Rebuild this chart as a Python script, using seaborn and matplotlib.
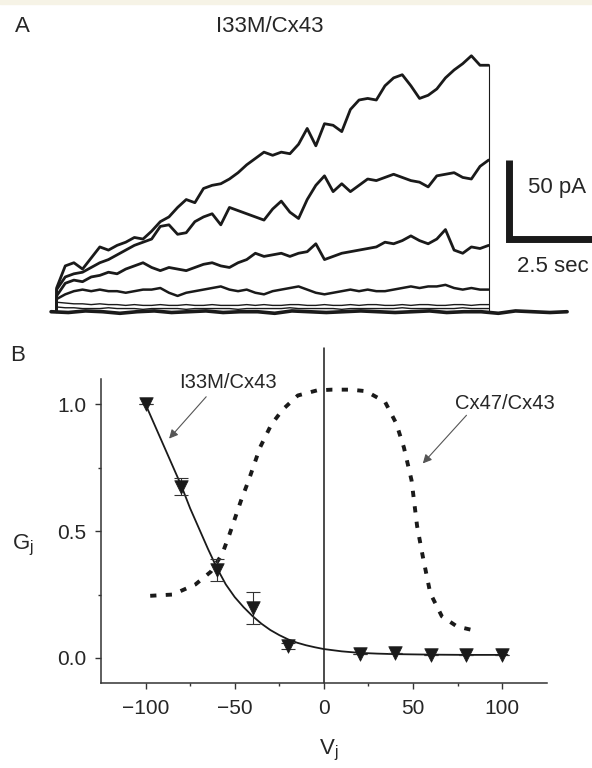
import numpy as np
import pandas as pd
import seaborn as sns
import matplotlib.pyplot as plt
from matplotlib.patches import Rectangle

sns.set_theme(style='ticks')
plt.rcParams['font.family'] = ['Liberation Sans', 'DejaVu Sans']
plt.rcParams['mathtext.fontset'] = 'custom'
plt.rcParams['mathtext.rm'] = 'Liberation Sans'

# ---- panel A: current traces (time in s, current in pA) ----
t_grid = np.linspace(0, 12.5, 51)
trace1 = [15, 29, 31, 27, 34, 41, 39, 42, 44, 47,
          46, 51, 57, 60, 66, 71, 69, 78, 80, 81,
          84, 88, 93, 97, 101, 99, 101, 100, 106, 116,
          105, 119, 118, 114, 128, 134, 135, 134, 143, 148,
          150, 143, 135, 137, 141, 148, 153, 157, 162, 156,
          156]
trace2 = [14, 22, 24, 25, 28, 31, 33, 36, 39, 42,
          44, 46, 54, 55, 49, 50, 57, 60, 62, 55,
          66, 64, 62, 60, 58, 65, 70, 63, 59, 71,
          80, 86, 76, 81, 76, 80, 84, 83, 85, 87,
          85, 83, 82, 79, 86, 87, 88, 85, 84, 92,
          96]
trace3 = [10, 18, 20, 19, 22, 23, 25, 24, 27, 29,
          31, 28, 26, 28, 27, 26, 28, 30, 31, 29,
          28, 31, 33, 37, 35, 36, 37, 35, 37, 38,
          43, 33, 35, 37, 38, 39, 40, 41, 44, 43,
          45, 48, 45, 43, 46, 52, 39, 37, 41, 40,
          42]
trace4 = [8, 11, 13, 14, 13, 14, 13, 13, 12, 13,
          14, 14, 15, 12, 10, 12, 13, 14, 15, 16,
          14, 13, 14, 12, 11, 13, 14, 15, 16, 14,
          12, 11, 12, 13, 14, 13, 14, 13, 13, 14,
          15, 16, 15, 16, 16, 17, 15, 14, 15, 14,
          14]
trace5 = [6, 5.5, 5, 5, 4.5, 5, 4.5, 4.5, 4, 4.5,
          4, 4, 4.5, 4, 4, 4.5, 4, 4, 4.5, 4,
          4, 4, 4.5, 4, 4.5, 4, 4, 4.5, 4.5, 4,
          4, 4.5, 4, 4, 4.5, 4, 4.5, 4.5, 4, 4,
          4.5, 4, 4.5, 4.5, 4, 4, 4.5, 4.5, 4, 4.5,
          4.5]
trace6 = [3, 2.5, 2.5, 2, 2, 2, 2.5, 2, 2, 2,
          1.5, 2, 2, 2, 2, 1.5, 2, 2, 2, 2,
          2, 1.5, 2, 2, 2, 2, 2, 2.5, 2, 2,
          2, 2, 2, 1.5, 2, 2, 2, 2, 2, 2,
          2.5, 2, 2, 2, 2, 2, 2, 2.5, 2, 2,
          2]
t_base = np.linspace(-0.16, 14.77, 31)
baseline = [0, -0.5, 0.5, 0, -1, 0, 0.5, -0.5, 0, 0.5,
            -0.5, 0, 0, -1, 0.5, 0, -0.5, 0, 0.5, 0,
            -0.5, 0, 0.5, -0.5, 0, 0, -1, 0.5, 0, -0.5, 0]

# ---- panel B: Gj-Vj relation ----
vj = [-100, -80, -60, -40, -20, 20, 40, 60, 80, 100]
gj = [1.0, 0.675, 0.347, 0.197, 0.048, 0.017, 0.02, 0.013, 0.013, 0.013]
gj_err = [0.0, 0.033, 0.044, 0.063, 0.012, 0, 0, 0, 0, 0]

fit_v = [-100, -95, -90, -85, -80, -75, -70, -65, -60, -55, -50, -45, -40,
         -35, -30, -25, -20, -15, -10, -5, 0, 10, 20, 30, 40, 60, 80, 103]
fit_g = [1.0, 0.92, 0.84, 0.76, 0.68, 0.59, 0.51, 0.43, 0.355, 0.29, 0.24,
         0.20, 0.165, 0.135, 0.11, 0.09, 0.073, 0.06, 0.05, 0.042, 0.035,
         0.026, 0.02, 0.017, 0.015, 0.013, 0.012, 0.012]

cx47_v = [-97.4, -84.7, -72, -63.4, -57, -52.8, -46.5, -42.2, -35.8, -29.5,
          -23, -14.6, -3.9, 4.5, 15.2, 23.6, 34.3, 40.6, 44.9, 49.2, 52.3,
          55.5, 59.7, 66.2, 74.7, 86.4]
cx47_g = [0.245, 0.25, 0.29, 0.34, 0.41, 0.49, 0.62, 0.70, 0.83, 0.92,
          0.98, 1.035, 1.055, 1.058, 1.058, 1.052, 1.01, 0.925, 0.83, 0.70,
          0.52, 0.40, 0.255, 0.164, 0.124, 0.105]

fig = plt.figure(figsize=(5.92, 7.68), dpi=100)
fig.patches.append(Rectangle((0, 1 - 4 / 768), 1, 4 / 768, transform=fig.transFigure,
                             color='#f6f3e6', zorder=0))

# panel A
ax_a = fig.add_axes([0, 0.5703, 1, 0.4297])
ax_a.axis('off')
ax_a.set_xlim(-1.638, 15.49)
ax_a.set_ylim(-11.58, 197.3)

sns.lineplot(x=t_base, y=baseline, ax=ax_a, color='k', lw=2.6,
             estimator=None, sort=False)
for tr, lw in [(trace6, 1.0), (trace5, 1.0), (trace4, 1.8),
               (trace3, 2.0), (trace2, 2.0), (trace1, 2.0)]:
    tx = np.concatenate([[0], t_grid])
    ty = np.concatenate([[0], tr])
    sns.lineplot(x=tx, y=ty, ax=ax_a, color='k', lw=lw, estimator=None,
                 sort=False, solid_joinstyle='round')
ax_a.vlines(t_grid[-1], 0, trace1[-1], color='k', lw=0.8)

# scale bar 50 pA / 2.5 sec
sb_x, sb_y = 13.1, 46
ax_a.plot([sb_x, sb_x, sb_x + 2.5], [sb_y + 50, sb_y, sb_y], color='k', lw=5,
          solid_joinstyle='miter', solid_capstyle='butt', clip_on=False)
ax_a.text(13.64, 75.3, '50 pA', fontsize=16, ha='left', va='baseline')
ax_a.text(13.32, 25.3, '2.5 sec', fontsize=16, ha='left', va='baseline')

fig.text(0.038, 0.9588, 'A', fontsize=16, ha='center', va='baseline')
fig.text(0.456, 0.9588, 'I33M/Cx43', fontsize=16, ha='center', va='baseline')

# panel B
ax_b = fig.add_axes([0.1706, 0.1103, 0.7529, 0.3962])
ax_b.set_xlim(-125, 125)
ax_b.set_ylim(-0.1, 1.1)

ax_b.axvline(0, ymin=0, ymax=1.101, color='k', lw=1.1, clip_on=False)
sns.lineplot(x=cx47_v, y=cx47_g, ax=ax_b, color='k', lw=2.8,
             linestyle=(0, (1.6, 2.4)), estimator=None, sort=False)
sns.lineplot(x=fit_v, y=fit_g, ax=ax_b, color='k', lw=1.3,
             estimator=None, sort=False)
ax_b.errorbar(vj, gj, yerr=gj_err, fmt='none', ecolor='#333333',
              elinewidth=0.8, capsize=4.7, capthick=0.8, zorder=3)
sns.scatterplot(x=vj, y=gj, ax=ax_b, marker='v', s=95, color='k',
                edgecolor='k', linewidth=0.5, zorder=4)

ax_b.set_xticks([-100, -50, 0, 50, 100])
ax_b.set_xticklabels(['\u2212100', '\u221250', '0', '50', '100'])
ax_b.set_xticks([-75, -25, 25, 75], minor=True)
ax_b.set_yticks([0.0, 0.5, 1.0])
ax_b.set_yticklabels(['0.0', '0.5', '1.0'])
ax_b.set_yticks([0.25, 0.75], minor=True)
ax_b.tick_params(which='major', direction='out', length=4.5, width=1.0,
                 labelsize=15, color='#333333')
ax_b.tick_params(axis='x', which='major', pad=7)
ax_b.tick_params(axis='y', which='major', pad=6)
ax_b.tick_params(which='minor', direction='out', length=2.5, width=1.0,
                 color='#333333')
sns.despine(ax=ax_b)
for s in ['left', 'bottom']:
    ax_b.spines[s].set_linewidth(1.1)
    ax_b.spines[s].set_color('#333333')

arrow = dict(arrowstyle='-|>', color='#555555', lw=0.8, mutation_scale=13,
             shrinkA=0, shrinkB=0)
ax_b.text(-54, 1.087, 'I33M/Cx43', fontsize=14.5, ha='center', va='center')
ax_b.annotate('', xy=(-86.8, 0.865), xytext=(-66, 1.03), arrowprops=arrow)
ax_b.text(101.8, 1.003, 'Cx47/Cx43', fontsize=14.5, ha='center', va='center')
ax_b.annotate('', xy=(55.5, 0.767), xytext=(80, 0.957), arrowprops=arrow)

fig.text(0.030, 0.5303, 'B', fontsize=16, ha='center', va='baseline')
fig.text(0.038, 0.290, r'G$_\mathregular{j}$', fontsize=16, ha='center', va='center')
fig.text(0.555, 0.018, r'V$_\mathregular{j}$', fontsize=16, ha='center', va='baseline')

fig.savefig('out.png', dpi=100)
